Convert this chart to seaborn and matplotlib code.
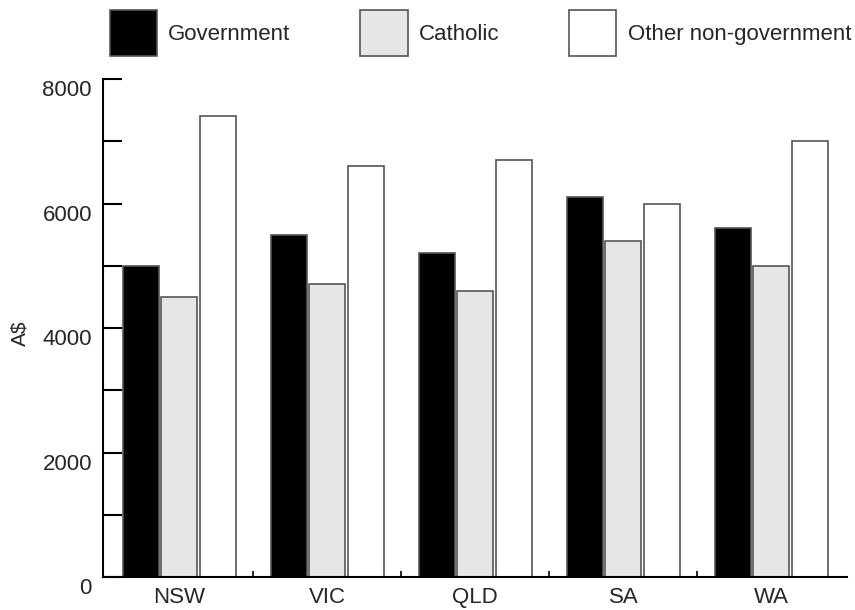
import matplotlib
matplotlib.use("Agg")
import matplotlib.pyplot as plt
import matplotlib.transforms as mtransforms
import pandas as pd
import seaborn as sns

states = ["NSW", "VIC", "QLD", "SA", "WA"]
sectors = ["Government", "Catholic", "Other non-government"]
government = [5000, 5500, 5200, 6100, 5600]
catholic = [4500, 4700, 4600, 5400, 5000]
other_nongov = [7400, 6600, 6700, 6000, 7000]

df = pd.DataFrame({
    "state": states * 3,
    "sector": [s for s in sectors for _ in states],
    "spend": government + catholic + other_nongov,
})

sns.set_theme(style="ticks")
plt.rcParams["font.family"] = ["Liberation Sans", "DejaVu Sans"]

fig, ax = plt.subplots(figsize=(8.55, 6.1), dpi=100)
fig.subplots_adjust(left=0.1205, right=0.9906, bottom=0.054, top=0.8705)

palette = {"Government": "#000000", "Catholic": "#e6e6e6", "Other non-government": "#ffffff"}
sns.barplot(data=df, x="state", y="spend", hue="sector", order=states, hue_order=sectors,
            palette=palette, width=0.78, gap=0.065, edgecolor="#555555", linewidth=1.2,
            saturation=1, errorbar=None, ax=ax)

ax.set_xlim(-0.514, 4.51)
ax.set_ylim(0, 8000)
ax.set_yticks(range(0, 8001, 2000))
ax.set_yticks(range(1000, 8000, 2000), minor=True)
ax.set_xticks([0.5, 1.5, 2.5, 3.5], minor=True)
ax.set_xlabel("")
ax.set_ylabel("A$", fontsize=15)
ax.yaxis.set_label_coords(-0.0995, 0.49)

for side in ["top", "right"]:
    ax.spines[side].set_visible(False)
for side in ["left", "bottom"]:
    ax.spines[side].set_linewidth(1.5)
    ax.spines[side].set_color("black")

ax.tick_params(axis="y", which="both", direction="in", length=13.7, width=1.5,
               color="black", labelsize=16, pad=8)
ax.tick_params(axis="x", which="major", length=0, labelsize=16, pad=7)
ax.tick_params(axis="x", which="minor", direction="in", length=4, width=1.2, color="black")

shift = mtransforms.ScaledTranslation(0, -0.09, fig.dpi_scale_trans)
for lab in ax.get_yticklabels():
    lab.set_transform(lab.get_transform() + shift)

handles, labels = ax.get_legend_handles_labels()
ax.get_legend().remove()
for h in handles:
    h.set_linewidth(1.2)
    h.set_edgecolor("#555555")
fig.legend(handles, labels, loc="upper left", bbox_to_anchor=(110 / 855, 1 - 10 / 610),
           ncol=3, frameon=False, fontsize=16, handlelength=2.12, handleheight=2.81,
           handletextpad=0.5, columnspacing=3.15, borderpad=0, borderaxespad=0)

fig.savefig("out.png", dpi=100, facecolor="white")
